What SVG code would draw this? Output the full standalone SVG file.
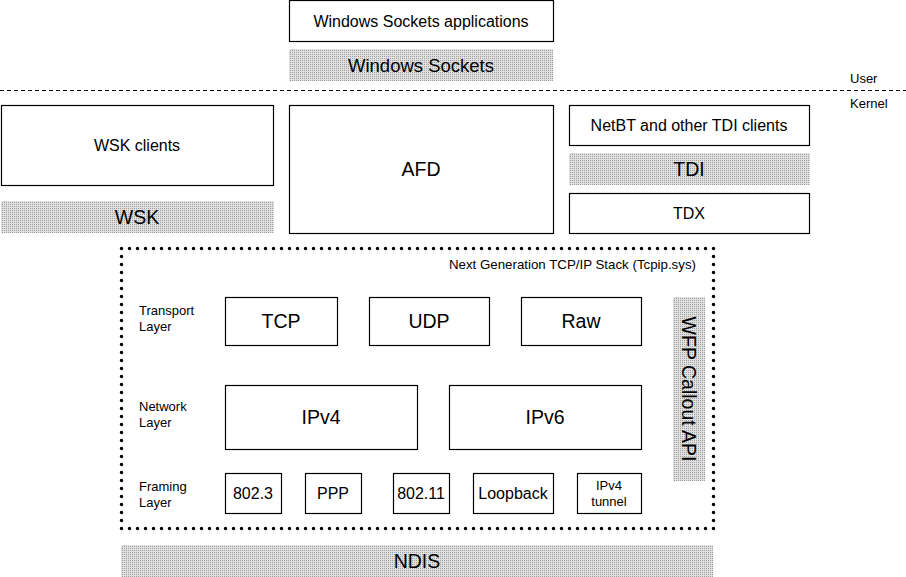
<svg xmlns="http://www.w3.org/2000/svg" width="906" height="577" viewBox="0 0 906 577">
<defs>
<pattern id="dither" width="2" height="2" patternUnits="userSpaceOnUse">
<rect width="2" height="2" fill="#e0e0e0"/>
<rect width="1" height="1" fill="#a0a0a0"/>
</pattern>
</defs>
<style>
.box{fill:#fff;stroke:#000;stroke-width:1.2}
.gray{fill:url(#dither);stroke:none}
text{font-family:"Liberation Sans",Arial,sans-serif;fill:#000;text-anchor:middle;dominant-baseline:central}
.s{font-size:13px}
.m{font-size:16px}
.l{font-size:19.5px}
.left{text-anchor:start}
.right{text-anchor:end}
</style>
<rect width="906" height="577" fill="#fff"/>

<g id="app"><rect class="box" x="289.5" y="0.5" width="264" height="41"/><text class="m" x="421" y="21">Windows Sockets applications</text></g>
<g id="winsock"><rect class="gray" x="289" y="49" width="264" height="32"/><text class="l" x="421" y="65" style="font-size:18.5px">Windows Sockets</text></g>

<g id="boundary">
<line x1="0" y1="90.5" x2="906" y2="90.5" stroke="#000" stroke-width="1" stroke-dasharray="4 3"/>
<text class="s left" x="850" y="78">User</text>
<text class="s left" x="850" y="103">Kernel</text>
</g>

<g id="wskclients"><rect class="box" x="1.5" y="105.5" width="272" height="80"/><text class="m" x="137" y="145">WSK clients</text></g>
<g id="wsk"><rect class="gray" x="1" y="201" width="273" height="32"/><text class="l" x="137" y="217">WSK</text></g>
<g id="afd"><rect class="box" x="289.5" y="105.5" width="264" height="128"/><text class="l" x="421" y="169">AFD</text></g>
<g id="netbt"><rect class="box" x="569.5" y="105.5" width="240" height="40"/><text class="m" x="689" y="125">NetBT and other TDI clients</text></g>
<g id="tdi"><rect class="gray" x="569" y="153" width="241" height="32"/><text class="l" x="689" y="169">TDI</text></g>
<g id="tdx"><rect class="box" x="569.5" y="193.5" width="240" height="40"/><text class="m" x="689" y="213">TDX</text></g>

<g id="tcpip">
<rect x="121.5" y="248.5" width="592" height="280" fill="none" stroke="#000" stroke-width="3.5" stroke-linecap="round" stroke-dasharray="0 8"/>
<text class="s right" x="696" y="264" style="font-size:13.3px">Next Generation TCP/IP Stack (Tcpip.sys)</text>
<text class="s left" x="139" y="310">Transport</text>
<text class="s left" x="139" y="326">Layer</text>
<text class="s left" x="139" y="406">Network</text>
<text class="s left" x="139" y="422">Layer</text>
<text class="s left" x="139" y="486">Framing</text>
<text class="s left" x="139" y="502">Layer</text>
</g>

<g id="tcp"><rect class="box" x="225.5" y="297.5" width="112" height="48"/><text class="l" x="281" y="321">TCP</text></g>
<g id="udp"><rect class="box" x="369.5" y="297.5" width="120" height="48"/><text class="l" x="429" y="321">UDP</text></g>
<g id="raw"><rect class="box" x="521.5" y="297.5" width="120" height="48"/><text class="l" x="581" y="321">Raw</text></g>
<g id="ipv4"><rect class="box" x="225.5" y="385.5" width="192" height="64"/><text class="l" x="321" y="417">IPv4</text></g>
<g id="ipv6"><rect class="box" x="449.5" y="385.5" width="192" height="64"/><text class="l" x="545" y="417">IPv6</text></g>
<g id="e8023"><rect class="box" x="225.5" y="473.5" width="56" height="40"/><text class="m" x="253" y="493">802.3</text></g>
<g id="ppp"><rect class="box" x="305.5" y="473.5" width="56" height="40"/><text class="m" x="333" y="493">PPP</text></g>
<g id="e80211"><rect class="box" x="393.5" y="473.5" width="56" height="40"/><text class="m" x="421" y="493">802.11</text></g>
<g id="loopback"><rect class="box" x="473.5" y="473.5" width="80" height="40"/><text class="m" x="513" y="493">Loopback</text></g>
<g id="tunnel"><rect class="box" x="577.5" y="473.5" width="64" height="40"/><text class="s" x="609" y="485">IPv4</text><text class="s" x="609" y="501">tunnel</text></g>

<g id="wfp"><rect class="gray" x="673" y="297" width="32" height="184"/><text class="l" transform="translate(689 389) rotate(90)">WFP Callout API</text></g>

<g id="ndis"><rect class="gray" x="121" y="545" width="592" height="32"/><text class="l" x="417" y="561">NDIS</text></g>

<g id="connectors"></g>
</svg>
